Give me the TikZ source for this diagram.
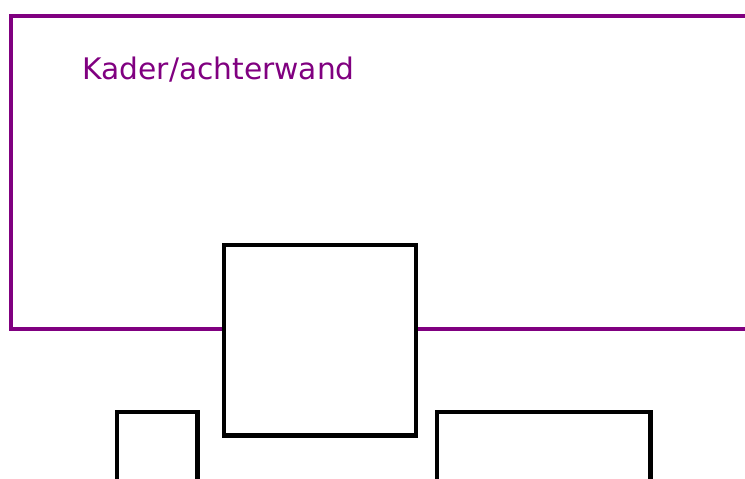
\documentclass[tikz,border=0pt]{standalone}
\usepackage{fontspec}
\setmainfont{DejaVu Sans}
\definecolor{kader}{HTML}{800080}
\begin{document}
\begin{tikzpicture}[x=1pt,y=-1pt,
  kaderline/.style={draw=kader,line width=4pt},
  blok/.style={draw=black,line width=4.2pt,fill=white}]
\useasboundingbox (0,0) rectangle (745,479);
\clip (0,0) rectangle (745,479);
\draw[kaderline] (10.5,16) rectangle (780,328.5);
\node[anchor=base west,text=kader,font=\fontsize{29.7}{34}\selectfont,inner sep=0pt] (label) at (82.3,79) {Kader/achterwand};
\draw[blok] (223.7,244.7) rectangle (415.7,435.5);
\draw[blok] (117.3,412.2) rectangle (197.5,500);
\draw[blok] (437.3,412.2) rectangle (650.5,500);
\end{tikzpicture}
\end{document}
